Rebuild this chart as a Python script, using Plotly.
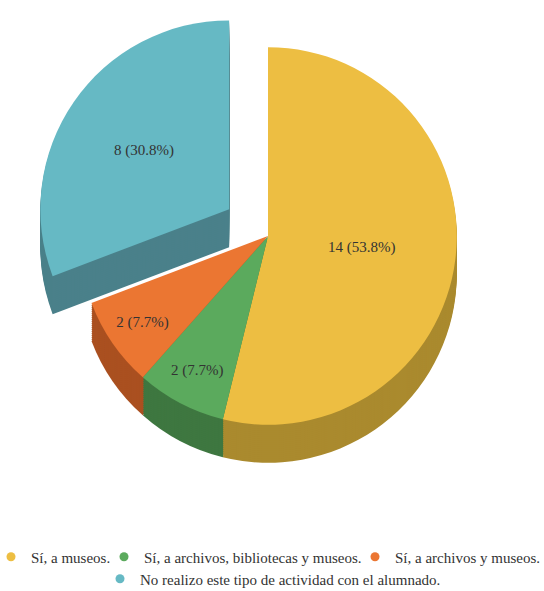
import plotly.graph_objects as go

categories = ["Sí, a museos.", "Sí, a archivos, bibliotecas y museos.",
              "Sí, a archivos y museos.", "No realizo este tipo de actividad con el alumnado."]
values = [14, 2, 2, 8]
top_colors = ["#EDBE42", "#5BAA5D", "#EB7632", "#66B9C4"]
side_colors = ["#AA8A2E", "#3E7740", "#AA5020", "#4A808A"]
pulls = [0, 0, 0, 0.25]
legend_ids = ["legend", "legend2", "legend3", "legend4"]
# legend placement (marker x in px, row center y in px)
legend_marker_x = [11, 124, 375, 120]
legend_row_y = [557, 557, 557, 579]

W, H = 544, 591
cx, cy, half = 268, 236, 236
depth = 38

fig = go.Figure()

def dom(offset):
    x0 = (cx - half) / W
    x1 = (cx + half) / W
    yc = 1 - (cy + offset) / H
    h = half / H
    return dict(x=[max(0, x0), min(1, x1)], y=[max(0, yc - h), min(1, yc + h)])

# side (depth) layers
for off in range(depth, 0, -2):
    fig.add_trace(go.Pie(
        labels=categories, values=values, sort=False, direction="clockwise",
        rotation=0, pull=pulls, marker=dict(colors=side_colors, line=dict(width=0)),
        textinfo="none", hoverinfo="skip", showlegend=False, domain=dom(off)))

# top face
fig.add_trace(go.Pie(
    labels=categories, values=values, sort=False, direction="clockwise",
    rotation=0, pull=pulls, marker=dict(colors=top_colors, line=dict(width=0)),
    texttemplate="%{value} (%{percent:.1%})", textposition="inside",
    insidetextorientation="horizontal",
    textfont=dict(family="Liberation Serif", size=15, color="#333333"),
    showlegend=False, domain=dom(0)))

# legend entries with round markers
for name, col, lg in zip(categories, top_colors, legend_ids):
    fig.add_trace(go.Scatter(x=[None], y=[None], mode="markers", name=name, legend=lg,
                             marker=dict(symbol="circle", size=9, color=col)))

legfont = dict(family="Liberation Serif", size=15, color="#333333")
legends = {}
for lg, mx, ry in zip(legend_ids, legend_marker_x, legend_row_y):
    legends[lg] = dict(orientation="h", x=(mx - 20) / W, xanchor="left",
                       y=1 - ry / H, yanchor="middle", font=legfont, itemwidth=30,
                       bgcolor="rgba(0,0,0,0)", borderwidth=0)

fig.update_layout(
    width=W, height=H, margin=dict(l=0, r=0, t=0, b=0, autoexpand=False),
    paper_bgcolor="white", plot_bgcolor="white",
    xaxis=dict(visible=False), yaxis=dict(visible=False),
    **legends,
)

fig.write_html("out.html", config={"displayModeBar": False},
               post_script="document.body.style.margin='0';")
